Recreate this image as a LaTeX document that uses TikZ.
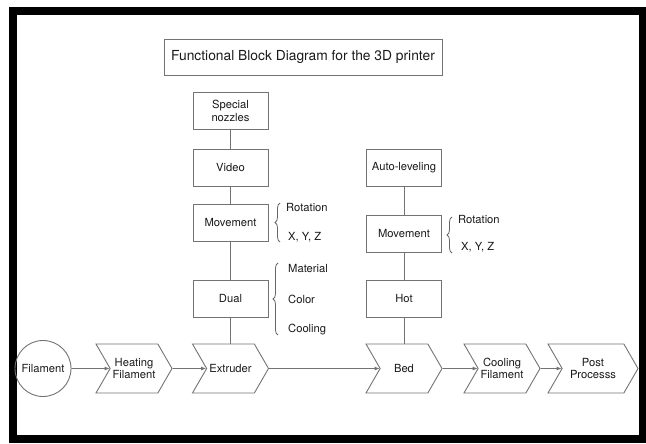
\documentclass[tikz,border=0pt]{standalone}
\usepackage{fontspec}
\setmainfont{TeX Gyre Heros}
\usetikzlibrary{shapes.symbols,decorations.pathreplacing,arrows.meta}

\begin{document}
\begin{tikzpicture}[x=1pt,y=-1pt,
  every node/.style={font=\fontsize{11.2}{12.5}\selectfont,text=black!90},
  block/.style={draw=black!55,line width=0.9pt,minimum width=75pt,minimum height=37pt,inner sep=0pt,align=center},
  stage/.style={signal,signal from=west,signal to=east,signal pointer angle=120,draw=black!55,line width=0.9pt,minimum width=76pt,minimum height=49pt,inner sep=0pt,align=center},
  item/.style={anchor=west,inner sep=1pt},
  link/.style={draw=black!55,line width=0.9pt},
  flow/.style={link,-{Latex[length=5pt,width=4pt]}},
  bracket/.style={draw=black!60,line width=0.8pt,decorate,decoration={brace,amplitude=5pt}}]

  \useasboundingbox (0,0) rectangle (646,444);
  % Outer frame
  \draw[line width=8pt] (13,11.5) rectangle (643,439);

  % Title
  \node[block,minimum width=278pt,minimum height=36pt,font=\fontsize{13.8}{15}\selectfont] (title) at (303,57) {Functional Block Diagram for the 3D printer};

  % Extruder column
  \node[block] (nozzles) at (230.5,111) {Special\\nozzles};
  \node[block] (video) at (230.5,167.5) {Video};
  \node[block] (movext) at (230.5,222.5) {Movement};
  \node[block] (dual) at (230.5,298.5) {Dual};

  % Bed column
  \node[block] (level) at (404,167.5) {Auto-leveling};
  \node[block] (movbed) at (404,234) {Movement};
  \node[block] (hot) at (404,298.5) {Hot};

  % Process line
  \node[circle,draw=black!55,line width=0.9pt,minimum size=56pt,inner sep=0pt] (filament) at (43,368.5) {Filament};
  \node[stage] (heating) at (134,368.5) {Heating\\Filament};
  \node[stage] (extruder) at (230.5,368.5) {Extruder};
  \node[stage] (bed) at (404,368.5) {Bed};
  \node[stage] (cooling) at (502,368.5) {Cooling\\Filament};
  \node[stage,minimum width=90pt] (post) at (593,368.5) {Post\\Processs};

  % Options of the blocks
  \draw[bracket] (280,242) -- (280,203);
  \node[item] (rotext) at (285,208) {Rotation};
  \node[item] (xyzext) at (287,237) {X, Y, Z};

  \draw[bracket] (278,335) -- (278,263);
  \node[item] (material) at (287,269) {Material};
  \node[item] (color) at (287,299) {Color};
  \node[item] (coolext) at (287,330) {Cooling};

  \draw[bracket] (452,253) -- (452,217);
  \node[item] (rotbed) at (457,220) {Rotation};
  \node[item] (xyzbed) at (460,247) {X, Y, Z};

  % Connectors
  \draw[link] (nozzles) -- (video);
  \draw[link] (video) -- (movext);
  \draw[link] (movext) -- (dual);
  \draw[link] (dual) -- (extruder);
  \draw[link] (level) -- (movbed);
  \draw[link] (movbed) -- (hot);
  \draw[link] (hot) -- (bed);

  \draw[flow] (filament) -- (heating);
  \draw[flow] (heating) -- (extruder);
  \draw[flow] (extruder) -- (bed);
  \draw[flow] (bed) -- (cooling);
  \draw[flow] (cooling) -- (post);

\end{tikzpicture}
\end{document}
